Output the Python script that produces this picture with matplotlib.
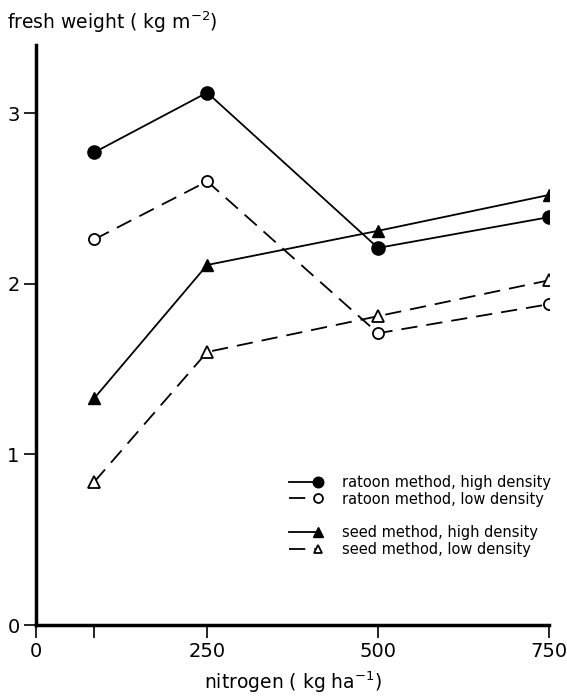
import matplotlib.pyplot as plt
from matplotlib.legend_handler import HandlerLine2D
from matplotlib.lines import Line2D

# nitrogen levels (kg/ha)
nitrogen = [85, 250, 500, 750]

# fresh weight (kg/m2)
ratoon_high = [2.77, 3.12, 2.21, 2.39]
ratoon_low = [2.26, 2.60, 1.71, 1.88]
seed_high = [1.33, 2.11, 2.31, 2.52]
seed_low = [0.84, 1.60, 1.81, 2.02]

labels = ['ratoon method, high density', 'ratoon method, low density',
          'seed method, high density', 'seed method, low density']

plt.rcParams['font.family'] = ['DejaVu Sans']


# marker only at the right end of the legend line
class EndMarker(HandlerLine2D):
    def create_artists(self, legend, orig_handle, xdescent, ydescent,
                       width, height, fontsize, trans):
        arts = super().create_artists(legend, orig_handle, xdescent, ydescent,
                                      width, height, fontsize, trans)
        for a in arts:
            a.set_markevery([len(a.get_xdata()) - 1])
        return arts


fig = plt.figure(figsize=(5.67, 7.0), dpi=100)
ax = fig.add_axes([0.064, 0.107, 0.904, 0.829])

dash = (0, (9, 5))
kw = dict(color='black', lw=1.3)
h1, = ax.plot(nitrogen, ratoon_high, '-', marker='o', ms=9.5, mfc='black', mec='black', **kw)
h2, = ax.plot(nitrogen, ratoon_low, linestyle=dash, marker='o', ms=8, mfc='white', mec='black', mew=1.3, **kw)
h3, = ax.plot(nitrogen, seed_high, '-', marker='^', ms=9, mfc='black', mec='black', **kw)
h4, = ax.plot(nitrogen, seed_low, linestyle=dash, marker='^', ms=8, mfc='white', mec='black', mew=1.3, **kw)

spacer = Line2D([], [], linestyle='none', marker='none')
leg = ax.legend([h1, h2, spacer, h3, h4],
                [labels[0], labels[1], '', labels[2], labels[3]],
                handler_map={Line2D: EndMarker(numpoints=2)},
                loc='upper left', bbox_to_anchor=(0.485, 0.259),
                borderaxespad=0, borderpad=0, markerscale=0.8,
                frameon=False, fontsize=10.5, handlelength=2.6,
                handletextpad=1.3, labelspacing=0.12)

ax.set_xlim(0, 750)
ax.set_ylim(0, 3.4)
ax.set_xticks([0, 250, 500, 750])
ax.set_xticks([85], minor=True)
ax.set_yticks([0, 1, 2, 3])

for s in ['top', 'right']:
    ax.spines[s].set_visible(False)
for s in ['left', 'bottom']:
    ax.spines[s].set_linewidth(2.5)

ax.tick_params(which='both', direction='out', length=9, width=1.2,
               labelsize=14, pad=3)

ax.set_xlabel('nitrogen ( kg ha$^{-1}$)', fontsize=13.5, labelpad=6)
fig.text(0.012, 0.958, 'fresh weight ( kg m$^{-2}$)', fontsize=13.5,
         ha='left', va='baseline')

fig.savefig('out.png', dpi=100)
